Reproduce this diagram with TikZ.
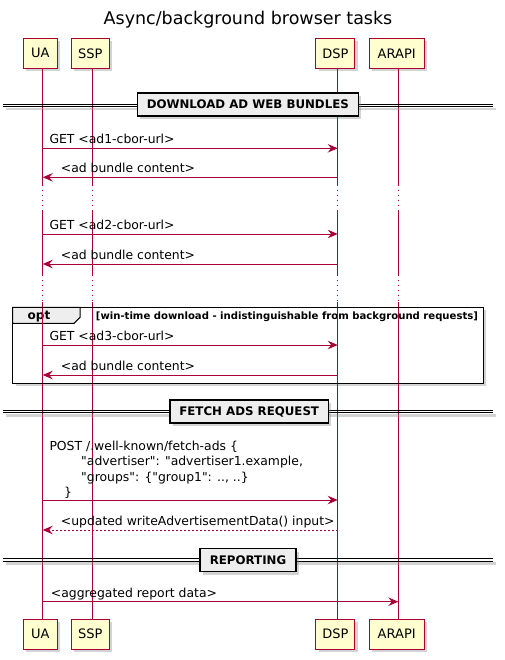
\documentclass[tikz,border=0pt]{standalone}
\usepackage{fontspec}
\setmainfont{DejaVu Sans}[Ligatures=TeXOff]
\usetikzlibrary{arrows.meta,shadows}
\definecolor{pred}{HTML}{A80036}
\definecolor{pfill}{HTML}{FEFECE}
\definecolor{dfill}{HTML}{EEEEEE}
\tikzset{
  part/.style={draw=pred,fill=pfill,line width=1pt,minimum height=30pt,inner sep=0pt,
    font=\fontsize{13}{15}\selectfont,drop shadow={shadow xshift=3pt,shadow yshift=-3pt,opacity=0.35,fill=black!50}},
  life/.style={draw=pred,line width=0.9pt},
  lifedot/.style={draw=pred,line width=0.9pt,dash pattern=on 1pt off 4pt},
  msg/.style={draw=pred,line width=0.9pt,-{Stealth[length=10pt,width=8.5pt,inset=3.5pt]}},
  ret/.style={msg,dash pattern=on 2pt off 2pt},
  mtxt/.style={anchor=base west,inner sep=0pt,font=\fontsize{12.4}{15}\selectfont},
  divbox/.style={draw=black,fill=dfill,line width=1.5pt,inner sep=0pt,minimum height=23pt,
    font=\bfseries\fontsize{11.8}{13}\selectfont,drop shadow={shadow xshift=3pt,shadow yshift=-3pt,opacity=0.35,fill=black!50}},
  divline/.style={draw=black,line width=0.8pt},
  shad/.style={fill=black!50,opacity=0.35},
}
\begin{document}
\begin{tikzpicture}[x=1pt,y=-1pt]
\useasboundingbox (0,0) rectangle (504,660);
% title
\node[font=\fontsize{17.5}{20}\selectfont] (title) at (248,19.5) {Async/background browser tasks};

% participants
\node[part,minimum width=34pt] (uaT) at (40.3,53.3) {UA};
\node[part,minimum width=38pt] (sspT) at (90.3,53.3) {SSP};
\node[part,minimum width=39.3pt] (dspT) at (335.3,53.3) {DSP};
\node[part,minimum width=54.7pt] (arT) at (396.7,53.3) {ARAPI};
\node[part,minimum width=34pt] (uaB) at (40.3,634.2) {UA};
\node[part,minimum width=38pt] (sspB) at (90.3,634.2) {SSP};
\node[part,minimum width=39.3pt] (dspB) at (335.3,634.2) {DSP};
\node[part,minimum width=54.7pt] (arB) at (396.7,634.2) {ARAPI};

% opt frame background (behind lifelines)
\fill[shad] (15.7,310.3) rectangle (486.3,386.3);
\fill[white] (12.7,307.3) rectangle (483.3,383.3);
\draw[fill=dfill,draw=black,line width=1pt] (12.7,307.3) -- (80,307.3) -- (80,317.3) -- (74,323.3) -- (12.7,323.3) -- cycle;
\node[font=\bfseries\fontsize{12}{14}\selectfont,inner sep=0pt] (optl) at (39,316.5) {opt};
\node[anchor=west,inner sep=0pt,font=\bfseries\fontsize{10.1}{11}\selectfont] (guard) at (95.7,316.3) {[win-time download - indistinguishable from background requests]};

% lifelines
\foreach \n/\x in {ua/42.7,ssp/92.3,dsp/337.7,ar/398.3}{
  \coordinate (\n1) at (\x,68.3);
  \coordinate (\n2) at (\x,185);
  \coordinate (\n3) at (\x,211);
  \coordinate (\n4) at (\x,275);
  \coordinate (\n5) at (\x,302);
  \coordinate (\n6) at (\x,619);
  \draw[life] (\n1) -- (\n2);
  \draw[lifedot] (\n2) -- (\n3);
  \draw[life] (\n3) -- (\n4);
  \draw[lifedot] (\n4) -- (\n5);
  \draw[life] (\n5) -- (\n6);
}
% opt frame border
\draw[draw=black,line width=1.5pt] (12.7,307.3) rectangle (483.3,383.3);

% divider 1
\fill[shad] (6.3,108) rectangle (495.7,110.5);
\draw[divline] (3.3,104) -- (492.7,104);
\draw[divline] (3.3,106.5) -- (492.7,106.5);
\node[divbox,minimum width=221pt] (div1) at (247.8,104.7) {DOWNLOAD AD WEB BUNDLES};

% messages 1-4
\coordinate (m1a) at (42.7,148.3); \coordinate (m1b) at (337.7,148.3);
\draw[msg] (m1a) -- (m1b);
\node[mtxt] (t1) at (49.3,144) {GET <ad1-cbor-url>};
\coordinate (m2a) at (337.7,177.3); \coordinate (m2b) at (42.7,177.3);
\draw[msg] (m2a) -- (m2b);
\node[mtxt] (t2) at (60.7,173) {<ad bundle content>};
\coordinate (m3a) at (42.7,234); \coordinate (m3b) at (337.7,234);
\draw[msg] (m3a) -- (m3b);
\node[mtxt] (t3) at (49.3,229.7) {GET <ad2-cbor-url>};
\coordinate (m4a) at (337.7,264); \coordinate (m4b) at (42.7,264);
\draw[msg] (m4a) -- (m4b);
\node[mtxt] (t4) at (60.7,259.7) {<ad bundle content>};

\coordinate (m5a) at (42.7,345); \coordinate (m5b) at (337.7,345);
\draw[msg] (m5a) -- (m5b);
\node[mtxt] (t5) at (49.3,340.7) {GET <ad3-cbor-url>};
\coordinate (m6a) at (337.7,375); \coordinate (m6b) at (42.7,375);
\draw[msg] (m6a) -- (m6b);
\node[mtxt] (t6) at (60.7,370.7) {<ad bundle content>};

% divider 2
\fill[shad] (6.3,414) rectangle (495.7,416.5);
\draw[divline] (3.3,410.3) -- (492.7,410.3);
\draw[divline] (3.3,412.8) -- (492.7,412.8);
\node[divbox,minimum width=158.3pt] (div2) at (249.2,411.7) {FETCH ADS REQUEST};

% POST
\node[mtxt] (p1) at (49.3,450) {POST /.well-known/fetch-ads \{};
\node[mtxt] (p2) at (81,465.5) {"advertiser": "advertiser1.example,};
\node[mtxt] (p3) at (81,481) {"groups": \{"group1": .., ..\}};
\node[mtxt] (p4) at (64,496.5) {\}};
\coordinate (m7a) at (42.7,500); \coordinate (m7b) at (337.7,500);
\draw[msg] (m7a) -- (m7b);
\coordinate (m8a) at (337.7,530); \coordinate (m8b) at (42.7,530);
\draw[ret] (m8a) -- (m8b);
\node[mtxt] (t8) at (60.7,525.5) {<updated writeAdvertisementData() input>};

% divider 3
\fill[shad] (6.3,562.3) rectangle (495.7,564.8);
\draw[divline] (3.3,558.8) -- (492.7,558.8);
\draw[divline] (3.3,561.3) -- (492.7,561.3);
\node[divbox,minimum width=96pt] (div3) at (248,560) {REPORTING};

\coordinate (m9a) at (42.7,601.7); \coordinate (m9b) at (398.3,601.7);
\draw[msg] (m9a) -- (m9b);
\node[mtxt] (t9) at (50.7,597.3) {<aggregated report data>};
\end{tikzpicture}
\end{document}
